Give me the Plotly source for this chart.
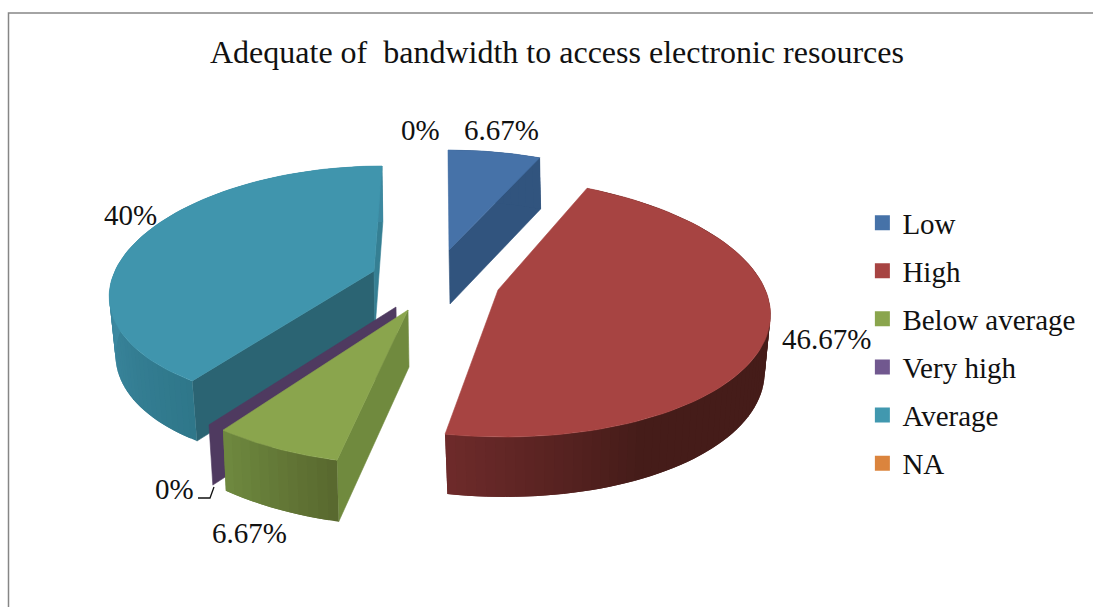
import numpy as np
import plotly.graph_objects as go

TITLE = "Adequate of  bandwidth to access electronic resources"
categories = ["Low", "High", "Below average", "Very high", "Average", "NA"]
values = [6.67, 46.67, 6.67, 0, 40, 0]

top_colors = ["#4672a8", "#a74442", "#8aa54d", "#4f3a60", "#4095ad", "#db843d"]
legend_colors = ["#4672a8", "#a74442", "#8aa54d", "#71588f", "#4198af", "#db843d"]
SERIF = "Liberation Serif"

# label anchor per category (image px)
label_pos = [(501, 130), (826, 339), (249, 533), (174, 489), (130, 215), (420, 130)]

# projection of each exploded slice: apex, ellipse offset/axes/shear, extrusion
proj = {
    "Low": dict(ax=449, ay=250, c=0, A=225, B=-1, d=-10, e=90, depth=54, g=0.03, k=1.0),
    "High": dict(ax=498, ay=290, c=-10.6, A=282.6, B=-16.8, d=17, e=130, depth=57, g=0.02, k=0.975),
    "Below average": dict(ax=408, ay=310, c=-8.6, A=300, B=0, d=-23, e=177, depth=57, g=0.03, k=0.99),
    "Very high": dict(ax=396, ay=307, c=-10.6, A=300, B=0, d=-23, e=174, depth=58, g=0.02, k=0.985),
    "Average": dict(ax=374, ay=271, c=-16.6, A=247, B=24.6, d=13.8, e=118.8, depth=58, g=0.02, k=0.98),
}
side_grad = {
    "Low": ("#31547e", "#31547e"),
    "High": ("#451c19", "#6f2b2b"),
    "Below average": ("#59692f", "#708b40"),
    "Very high": ("#4f3a60", "#4f3a60"),
    "Average": ("#2f778a", "#3c88a0"),
}
edge_face = {"Low": ("end", "#31547e"), "Below average": ("start", "#708a3e"),
             "Very high": ("start", "#4f3a60"), "Average": ("start", "#2b6473")}


def arc(p, th):
    t = np.radians(th)
    return (p["ax"] + p["c"] + p["A"] * np.sin(t) + p["B"] * np.cos(t),
            p["ay"] + p["d"] - p["e"] * np.cos(t))


def lower(p, x, y):
    return (p["ax"] + (x - p["ax"]) * p["k"] + 1,
            y + p["depth"] + p["g"] * (y - p["ay"]))


def mix(a, b, f):
    ca = [int(a[i:i + 2], 16) for i in (1, 3, 5)]
    cb = [int(b[i:i + 2], 16) for i in (1, 3, 5)]
    return "#%02x%02x%02x" % tuple(round(u + (v - u) * f) for u, v in zip(ca, cb))


def poly(fig, xs, ys, color, group, lw=0.6):
    fig.add_trace(go.Scatter(x=list(xs), y=list(ys), mode="lines", fill="toself",
                             fillcolor=color, line=dict(color=color, width=lw),
                             hoverinfo="skip", showlegend=False, legendgroup=group))


fig = go.Figure()

for name, col in zip(categories, legend_colors):
    fig.add_trace(go.Scatter(x=[None], y=[None], mode="markers", name=name, legendgroup=name,
                             marker=dict(symbol="square", size=15, color=col)))

total = sum(values)
edges = np.concatenate([[0], np.cumsum(values)]) / total * 360
span = {c: (edges[i], edges[i + 1]) for i, c in enumerate(categories)}

for name in ["Low", "Average", "Very high", "Below average", "High"]:
    p = proj[name]
    i = categories.index(name)
    a0, a1 = span[name]
    # radial side faces
    if name in edge_face:
        which, col = edge_face[name]
        th = a0 if which == "start" else a1
        x, y = arc(p, th)
        xb, yb = lower(p, x, y)
        axb, ayb = lower(p, p["ax"], p["ay"])
        poly(fig, [p["ax"], x, xb, axb, p["ax"]], [p["ay"], y, yb, ayb, p["ay"]], col, name)
    if name == "Average":
        x, y = arc(p, a1)
        xb, yb = lower(p, x, y)
        axb, ayb = lower(p, p["ax"], p["ay"])
        poly(fig, [p["ax"], x, xb, axb, p["ax"]], [p["ay"], y, yb, ayb, p["ay"]], "#357f93", name)
    # curved rim, shaded band by band; each band overlaps the next so no seams show
    if a1 > a0:
        steps = np.linspace(a0, a1, max(int((a1 - a0) / 2.0), 10) + 1)
        lo, hi = side_grad[name]
        for j in range(len(steps) - 1):
            s0 = steps[j]
            s1 = steps[min(j + 2, len(steps) - 1)]
            mids = np.linspace(s0, s1, 6)
            xt, yt = arc(p, mids)
            xb, yb = lower(p, xt, yt)
            if name == "High":
                f = np.clip((s0 - 150) / 42, 0, 1)
            elif name == "Average":
                f = np.clip((s0 - 216) / 54, 0, 1)
            else:
                f = np.clip((s0 - a0) / max(a1 - a0, 1), 0, 1)
            poly(fig, np.r_[xt, xb[::-1], xt[0]], np.r_[yt, yb[::-1], yt[0]], mix(lo, hi, f), name, lw=0)
        # top face
        th = np.linspace(a0, a1, 80)
        ax_, ay_ = arc(p, th)
        poly(fig, np.r_[p["ax"], ax_, p["ax"]], np.r_[p["ay"], ay_, p["ay"]], top_colors[i], name)

annotations = [
    dict(x=x, y=y, xref="x", yref="y", text=f"{v:g}%", showarrow=False,
         font=dict(family=SERIF, size=29, color="#111111"), xanchor="center", yanchor="middle")
    for (x, y), v in zip(label_pos, values)
]
annotations.append(dict(x=557, y=52, xref="x", yref="y", text=TITLE, showarrow=False,
                        font=dict(family=SERIF, size=32, color="#111111"),
                        xanchor="center", yanchor="middle"))

fig.update_layout(
    width=1093, height=607, margin=dict(l=0, r=0, t=0, b=0),
    paper_bgcolor="white", plot_bgcolor="white",
    xaxis=dict(range=[0, 1093], visible=False, fixedrange=True),
    yaxis=dict(range=[607, 0], visible=False, fixedrange=True),
    annotations=annotations,
    shapes=[
        dict(type="rect", x0=8.5, y0=13, x1=1110, y1=640, line=dict(color="#868686", width=1.5)),
        dict(type="path", path="M 198 498 L 210 498 L 214 487", line=dict(color="#111111", width=1.3)),
    ],
    legend=dict(x=0.789, y=0.675, xanchor="left", yanchor="top", traceorder="grouped",
                tracegroupgap=7.4, itemwidth=30, itemclick=False, itemdoubleclick=False,
                bgcolor="rgba(0,0,0,0)",
                font=dict(family=SERIF, size=29, color="#111111")),
    showlegend=True,
)
fig.write_html("out.html", post_script="document.body.style.margin='0';",
               config=dict(displayModeBar=False))
